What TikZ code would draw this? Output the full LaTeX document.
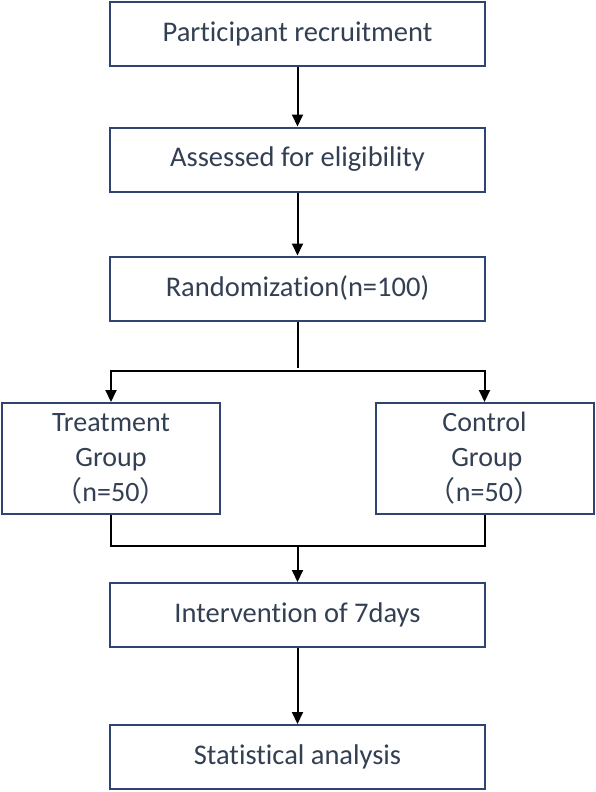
\documentclass[tikz,border=0pt]{standalone}
\usepackage{fontspec}
\setmainfont{Carlito}[Ligatures=NoCommon]
\newfontfamily\cjk{Noto Sans CJK SC}
\usetikzlibrary{arrows.meta,positioning}
\definecolor{boxline}{HTML}{2F4470}
\definecolor{txt}{HTML}{333F52}
\tikzset{
  mainbox/.style={draw=boxline, line width=2pt, minimum width=375pt, minimum height=64pt, inner sep=0pt, text=txt, font=\fontsize{28.5}{34}\selectfont},
  groupbox/.style={draw=boxline, line width=2pt, minimum width=218pt, minimum height=111pt, inner sep=0pt, text=txt, align=center, font=\fontsize{28}{35}\selectfont},
  conn/.style={draw=black, line width=2pt},
  arr/.style={conn, -{Triangle[length=12pt,width=11pt]}}
}
\begin{document}
\begin{tikzpicture}[x=1pt,y=-1pt]
\useasboundingbox (0,0) rectangle (595,792);
\node[mainbox] (rec) at (297.5,34) {Participant recruitment};
\node[mainbox] (ass) at (297.5,159.5) {Assessed for eligibility};
\node[mainbox] (ran) at (297.5,288.5) {Randomization(n=100)};
\node[groupbox] (trt) at (111,458.5) {Treatment\\Group\\{\cjk（}n=50{\cjk）}};
\node[groupbox] (ctl) at (484.5,458.5) {Control\\\,Group\\{\cjk（}n=50{\cjk）}};
\node[mainbox] (int) at (297.5,615) {Intervention of 7days};
\node[mainbox] (sta) at (297.5,757) {Statistical analysis};
\coordinate (split) at (297.5,371);
\coordinate (join) at (297.5,546);
\draw[arr] (rec) -- (ass);
\draw[arr] (ass) -- (ran);
\draw[conn] (ran) -- ([yshift=3pt]split);
\draw[arr] (split) -| (trt);
\draw[arr] (split) -| (ctl);
\draw[conn] (trt) |- (join);
\draw[conn] (ctl) |- (join);
\draw[arr] (join) -- (int);
\draw[arr] (int) -- (sta);
\end{tikzpicture}
\end{document}
